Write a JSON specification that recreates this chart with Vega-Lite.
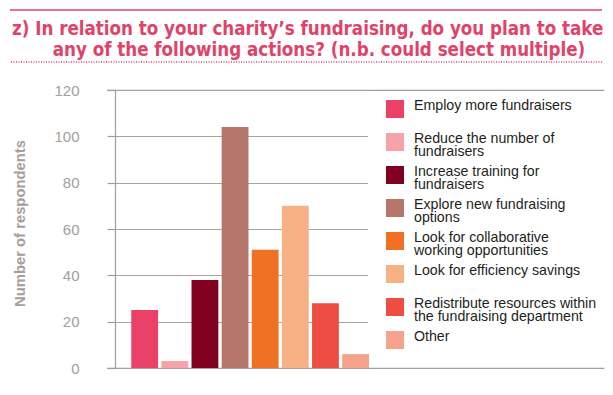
{
  "$schema": "https://vega.github.io/schema/vega-lite/v6.json",
  "padding": {"left": 8, "top": 9, "right": 0, "bottom": 0},
  "spacing": 18,
  "config": {
    "view": {"stroke": null},
    "font": "Liberation Sans"
  },
  "title": {
    "text": ["z) In relation to your charity’s fundraising, do you plan to take", "\u200b\u00a0\u00a0\u00a0\u00a0\u00a0\u00a0\u00a0any of the following actions? (n.b. could select multiple)"],
    "anchor": "start",
    "frame": "group",
    "orient": "top",
    "baseline": "top",
    "offset": -50,
    "font": "'DejaVu Sans Condensed', 'Liberation Sans Narrow', 'Roboto Condensed', Roboto",
    "fontWeight": "bold",
    "fontSize": 18.6,
    "lineHeight": 21,
    "color": "#e0436a",
    "dx": 2
  },
  "datasets": {
    "rules": [{"line": "bottom"}],
    "actions": [
      {"action": "Employ more fundraisers", "count": 25},
      {"action": "Reduce the number of fundraisers", "count": 3},
      {"action": "Increase training for fundraisers", "count": 38},
      {"action": "Explore new fundraising options", "count": 104},
      {"action": "Look for collaborative working opportunities", "count": 51},
      {"action": "Look for efficiency savings", "count": 70},
      {"action": "Redistribute resources within the fundraising department", "count": 28},
      {"action": "Other", "count": 6}
    ]
  },
  "vconcat": [
    {
      "width": 592,
      "height": 52,
      "view": {"stroke": "#e0436a", "strokeWidth": 1.5, "strokeDash": [592, 696]},
      "data": {"name": "rules"},
      "mark": {"type": "rule", "color": "#e0436a", "strokeWidth": 1.5, "strokeDash": [1, 1.5]},
      "encoding": {
        "y": {"field": "line", "type": "nominal", "scale": {"type": "point", "domain": ["top", "bottom"], "padding": 0}, "axis": null}
      }
    },
    {
      "width": 594,
      "height": 278,
      "view": {"stroke": "#a39d97", "strokeWidth": 1.2, "strokeDash": [0, 97, 497, 278, 497, 375]},
      "data": {"name": "actions"},
      "mark": {"type": "bar"},
      "encoding": {
        "x": {
          "field": "action", "type": "nominal", "sort": null,
          "scale": {"rangeMin": 105, "rangeMax": 359, "paddingInner": 0.11, "paddingOuter": 0.27, "align": 1},
          "axis": null
        },
        "y": {
          "field": "count", "type": "quantitative",
          "scale": {"domain": [0, 120]},
          "axis": {
            "offset": -105,
            "title": "Number of respondents",
            "titleFont": "Liberation Sans", "titleFontWeight": "bold", "titleFontSize": 14.8, "titleColor": "#a69e98",
            "titlePadding": 26,
            "titleY": 133,
            "values": [0, 20, 40, 60, 80, 100, 120],
            "labelFont": "Liberation Sans", "labelFontSize": 15, "labelColor": "#a69e98", "labelPadding": 28,
            "tickSize": 8, "tickColor": "#a39d97", "domainColor": "#a39d97", "tickWidth": 1.2, "domainWidth": 1.2,
            "grid": true, "gridColor": "#a8a29c", "gridWidth": 1.2
          }
        },
        "color": {
          "field": "action", "type": "nominal", "sort": null,
          "scale": {"range": ["#eb4067", "#f5a3a8", "#800020", "#b5766b", "#f07124", "#f7b184", "#ef4d42", "#f5a38b"]},
          "legend": {
            "title": null,
            "orient": "none",
            "legendX": 358,
            "legendY": 85,
            "fillColor": "white",
            "padding": 5,
            "gridAlign": "all",
            "symbolType": "square",
            "symbolSize": 324,
            "symbolStrokeWidth": 0,
            "symbolOffset": 13,
            "labelFont": "Liberation Sans",
            "labelFontSize": 14.2,
            "labelColor": "#231f20",
            "labelBaseline": "top",
            "labelLimit": 300,
            "labelOffset": 10,
            "rowPadding": 4,
            "encode": {"labels": {"update": {"lineHeight": {"value": 13.5}, "dy": {"value": -10.5}}}},
            "labelExpr": "datum.label == 'Reduce the number of fundraisers' ? ['Reduce the number of', 'fundraisers'] : datum.label == 'Increase training for fundraisers' ? ['Increase training for', 'fundraisers'] : datum.label == 'Explore new fundraising options' ? ['Explore new fundraising', 'options'] : datum.label == 'Look for collaborative working opportunities' ? ['Look for collaborative', 'working opportunities'] : datum.label == 'Redistribute resources within the fundraising department' ? ['Redistribute resources within', 'the fundraising department'] : datum.label"
          }
        }
      }
    }
  ]
}
